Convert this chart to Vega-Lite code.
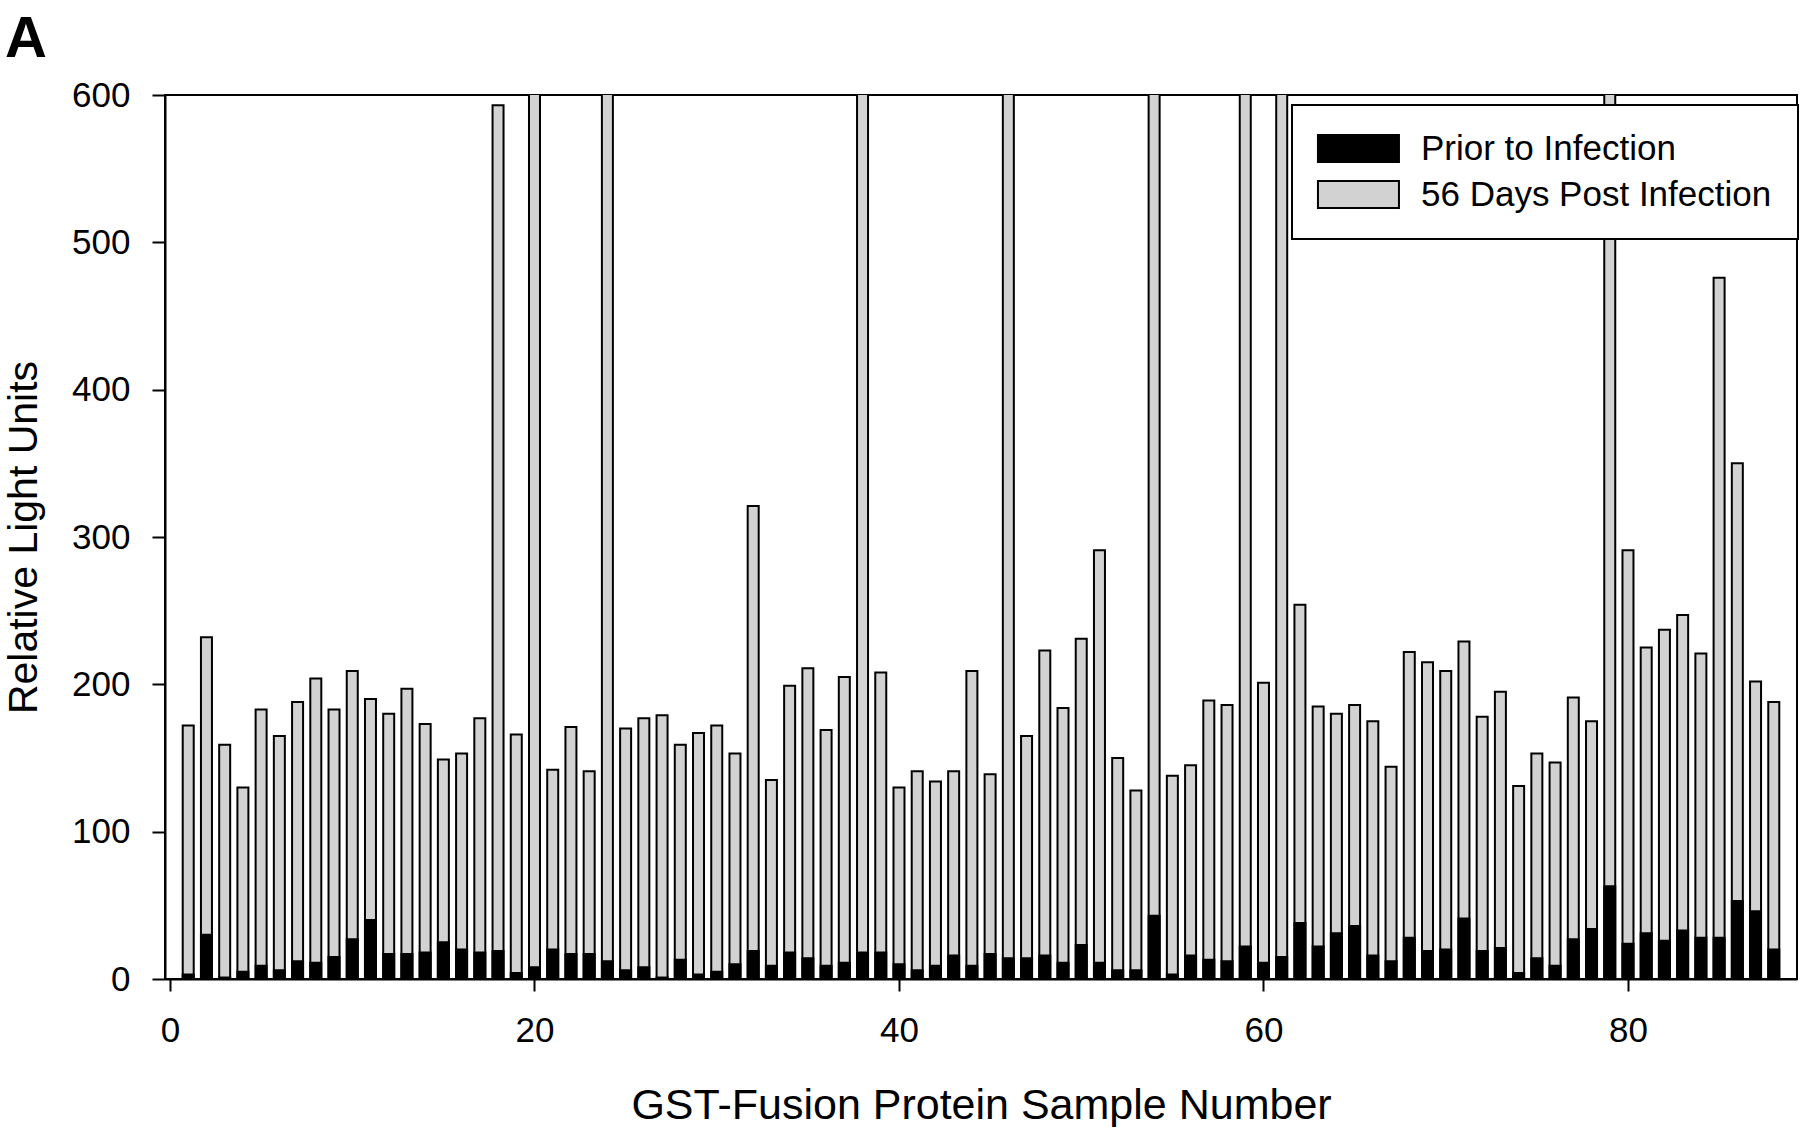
{
 "$schema": "https://vega.github.io/schema/vega-lite/v6.json",
 "width": 1632,
 "height": 884,
 "autosize": {"type": "none"},
 "padding": {"left": 165, "top": 95, "right": 3, "bottom": 148},
 "background": "white",
 "title": {"text": "A", "anchor": "start", "frame": "group", "dx": -160, "dy": 47, "offset": 10, "baseline": "alphabetic", "fontSize": 58, "fontWeight": "bold", "font": "Liberation Sans", "color": "black"},
 "config": {
  "view": {"stroke": "black", "strokeWidth": 2},
  "font": "Liberation Sans",
  "axis": {"grid": false, "domainColor": "black", "domainWidth": 2, "tickColor": "black", "tickWidth": 2, "labelColor": "black", "titleColor": "black", "labelFont": "Liberation Sans", "titleFont": "Liberation Sans", "titleFontWeight": "normal"}
 },
 "data": {"values": [
  {"sample":1,"series":"56 Days Post Infection","value":172},
  {"sample":2,"series":"56 Days Post Infection","value":232},
  {"sample":3,"series":"56 Days Post Infection","value":159},
  {"sample":4,"series":"56 Days Post Infection","value":130},
  {"sample":5,"series":"56 Days Post Infection","value":183},
  {"sample":6,"series":"56 Days Post Infection","value":165},
  {"sample":7,"series":"56 Days Post Infection","value":188},
  {"sample":8,"series":"56 Days Post Infection","value":204},
  {"sample":9,"series":"56 Days Post Infection","value":183},
  {"sample":10,"series":"56 Days Post Infection","value":209},
  {"sample":11,"series":"56 Days Post Infection","value":190},
  {"sample":12,"series":"56 Days Post Infection","value":180},
  {"sample":13,"series":"56 Days Post Infection","value":197},
  {"sample":14,"series":"56 Days Post Infection","value":173},
  {"sample":15,"series":"56 Days Post Infection","value":149},
  {"sample":16,"series":"56 Days Post Infection","value":153},
  {"sample":17,"series":"56 Days Post Infection","value":177},
  {"sample":18,"series":"56 Days Post Infection","value":593},
  {"sample":19,"series":"56 Days Post Infection","value":166},
  {"sample":20,"series":"56 Days Post Infection","value":700},
  {"sample":21,"series":"56 Days Post Infection","value":142},
  {"sample":22,"series":"56 Days Post Infection","value":171},
  {"sample":23,"series":"56 Days Post Infection","value":141},
  {"sample":24,"series":"56 Days Post Infection","value":700},
  {"sample":25,"series":"56 Days Post Infection","value":170},
  {"sample":26,"series":"56 Days Post Infection","value":177},
  {"sample":27,"series":"56 Days Post Infection","value":179},
  {"sample":28,"series":"56 Days Post Infection","value":159},
  {"sample":29,"series":"56 Days Post Infection","value":167},
  {"sample":30,"series":"56 Days Post Infection","value":172},
  {"sample":31,"series":"56 Days Post Infection","value":153},
  {"sample":32,"series":"56 Days Post Infection","value":321},
  {"sample":33,"series":"56 Days Post Infection","value":135},
  {"sample":34,"series":"56 Days Post Infection","value":199},
  {"sample":35,"series":"56 Days Post Infection","value":211},
  {"sample":36,"series":"56 Days Post Infection","value":169},
  {"sample":37,"series":"56 Days Post Infection","value":205},
  {"sample":38,"series":"56 Days Post Infection","value":700},
  {"sample":39,"series":"56 Days Post Infection","value":208},
  {"sample":40,"series":"56 Days Post Infection","value":130},
  {"sample":41,"series":"56 Days Post Infection","value":141},
  {"sample":42,"series":"56 Days Post Infection","value":134},
  {"sample":43,"series":"56 Days Post Infection","value":141},
  {"sample":44,"series":"56 Days Post Infection","value":209},
  {"sample":45,"series":"56 Days Post Infection","value":139},
  {"sample":46,"series":"56 Days Post Infection","value":700},
  {"sample":47,"series":"56 Days Post Infection","value":165},
  {"sample":48,"series":"56 Days Post Infection","value":223},
  {"sample":49,"series":"56 Days Post Infection","value":184},
  {"sample":50,"series":"56 Days Post Infection","value":231},
  {"sample":51,"series":"56 Days Post Infection","value":291},
  {"sample":52,"series":"56 Days Post Infection","value":150},
  {"sample":53,"series":"56 Days Post Infection","value":128},
  {"sample":54,"series":"56 Days Post Infection","value":700},
  {"sample":55,"series":"56 Days Post Infection","value":138},
  {"sample":56,"series":"56 Days Post Infection","value":145},
  {"sample":57,"series":"56 Days Post Infection","value":189},
  {"sample":58,"series":"56 Days Post Infection","value":186},
  {"sample":59,"series":"56 Days Post Infection","value":700},
  {"sample":60,"series":"56 Days Post Infection","value":201},
  {"sample":61,"series":"56 Days Post Infection","value":700},
  {"sample":62,"series":"56 Days Post Infection","value":254},
  {"sample":63,"series":"56 Days Post Infection","value":185},
  {"sample":64,"series":"56 Days Post Infection","value":180},
  {"sample":65,"series":"56 Days Post Infection","value":186},
  {"sample":66,"series":"56 Days Post Infection","value":175},
  {"sample":67,"series":"56 Days Post Infection","value":144},
  {"sample":68,"series":"56 Days Post Infection","value":222},
  {"sample":69,"series":"56 Days Post Infection","value":215},
  {"sample":70,"series":"56 Days Post Infection","value":209},
  {"sample":71,"series":"56 Days Post Infection","value":229},
  {"sample":72,"series":"56 Days Post Infection","value":178},
  {"sample":73,"series":"56 Days Post Infection","value":195},
  {"sample":74,"series":"56 Days Post Infection","value":131},
  {"sample":75,"series":"56 Days Post Infection","value":153},
  {"sample":76,"series":"56 Days Post Infection","value":147},
  {"sample":77,"series":"56 Days Post Infection","value":191},
  {"sample":78,"series":"56 Days Post Infection","value":175},
  {"sample":79,"series":"56 Days Post Infection","value":700},
  {"sample":80,"series":"56 Days Post Infection","value":291},
  {"sample":81,"series":"56 Days Post Infection","value":225},
  {"sample":82,"series":"56 Days Post Infection","value":237},
  {"sample":83,"series":"56 Days Post Infection","value":247},
  {"sample":84,"series":"56 Days Post Infection","value":221},
  {"sample":85,"series":"56 Days Post Infection","value":476},
  {"sample":86,"series":"56 Days Post Infection","value":350},
  {"sample":87,"series":"56 Days Post Infection","value":202},
  {"sample":88,"series":"56 Days Post Infection","value":188},
  {"sample":1,"series":"Prior to Infection","value":3},
  {"sample":2,"series":"Prior to Infection","value":30},
  {"sample":3,"series":"Prior to Infection","value":1},
  {"sample":4,"series":"Prior to Infection","value":5},
  {"sample":5,"series":"Prior to Infection","value":9},
  {"sample":6,"series":"Prior to Infection","value":6},
  {"sample":7,"series":"Prior to Infection","value":12},
  {"sample":8,"series":"Prior to Infection","value":11},
  {"sample":9,"series":"Prior to Infection","value":15},
  {"sample":10,"series":"Prior to Infection","value":27},
  {"sample":11,"series":"Prior to Infection","value":40},
  {"sample":12,"series":"Prior to Infection","value":17},
  {"sample":13,"series":"Prior to Infection","value":17},
  {"sample":14,"series":"Prior to Infection","value":18},
  {"sample":15,"series":"Prior to Infection","value":25},
  {"sample":16,"series":"Prior to Infection","value":20},
  {"sample":17,"series":"Prior to Infection","value":18},
  {"sample":18,"series":"Prior to Infection","value":19},
  {"sample":19,"series":"Prior to Infection","value":4},
  {"sample":20,"series":"Prior to Infection","value":8},
  {"sample":21,"series":"Prior to Infection","value":20},
  {"sample":22,"series":"Prior to Infection","value":17},
  {"sample":23,"series":"Prior to Infection","value":17},
  {"sample":24,"series":"Prior to Infection","value":12},
  {"sample":25,"series":"Prior to Infection","value":6},
  {"sample":26,"series":"Prior to Infection","value":8},
  {"sample":27,"series":"Prior to Infection","value":1},
  {"sample":28,"series":"Prior to Infection","value":13},
  {"sample":29,"series":"Prior to Infection","value":3},
  {"sample":30,"series":"Prior to Infection","value":5},
  {"sample":31,"series":"Prior to Infection","value":10},
  {"sample":32,"series":"Prior to Infection","value":19},
  {"sample":33,"series":"Prior to Infection","value":9},
  {"sample":34,"series":"Prior to Infection","value":18},
  {"sample":35,"series":"Prior to Infection","value":14},
  {"sample":36,"series":"Prior to Infection","value":9},
  {"sample":37,"series":"Prior to Infection","value":11},
  {"sample":38,"series":"Prior to Infection","value":18},
  {"sample":39,"series":"Prior to Infection","value":18},
  {"sample":40,"series":"Prior to Infection","value":10},
  {"sample":41,"series":"Prior to Infection","value":6},
  {"sample":42,"series":"Prior to Infection","value":9},
  {"sample":43,"series":"Prior to Infection","value":16},
  {"sample":44,"series":"Prior to Infection","value":9},
  {"sample":45,"series":"Prior to Infection","value":17},
  {"sample":46,"series":"Prior to Infection","value":14},
  {"sample":47,"series":"Prior to Infection","value":14},
  {"sample":48,"series":"Prior to Infection","value":16},
  {"sample":49,"series":"Prior to Infection","value":11},
  {"sample":50,"series":"Prior to Infection","value":23},
  {"sample":51,"series":"Prior to Infection","value":11},
  {"sample":52,"series":"Prior to Infection","value":6},
  {"sample":53,"series":"Prior to Infection","value":6},
  {"sample":54,"series":"Prior to Infection","value":43},
  {"sample":55,"series":"Prior to Infection","value":3},
  {"sample":56,"series":"Prior to Infection","value":16},
  {"sample":57,"series":"Prior to Infection","value":13},
  {"sample":58,"series":"Prior to Infection","value":12},
  {"sample":59,"series":"Prior to Infection","value":22},
  {"sample":60,"series":"Prior to Infection","value":11},
  {"sample":61,"series":"Prior to Infection","value":15},
  {"sample":62,"series":"Prior to Infection","value":38},
  {"sample":63,"series":"Prior to Infection","value":22},
  {"sample":64,"series":"Prior to Infection","value":31},
  {"sample":65,"series":"Prior to Infection","value":36},
  {"sample":66,"series":"Prior to Infection","value":16},
  {"sample":67,"series":"Prior to Infection","value":12},
  {"sample":68,"series":"Prior to Infection","value":28},
  {"sample":69,"series":"Prior to Infection","value":19},
  {"sample":70,"series":"Prior to Infection","value":20},
  {"sample":71,"series":"Prior to Infection","value":41},
  {"sample":72,"series":"Prior to Infection","value":19},
  {"sample":73,"series":"Prior to Infection","value":21},
  {"sample":74,"series":"Prior to Infection","value":4},
  {"sample":75,"series":"Prior to Infection","value":14},
  {"sample":76,"series":"Prior to Infection","value":9},
  {"sample":77,"series":"Prior to Infection","value":27},
  {"sample":78,"series":"Prior to Infection","value":34},
  {"sample":79,"series":"Prior to Infection","value":63},
  {"sample":80,"series":"Prior to Infection","value":24},
  {"sample":81,"series":"Prior to Infection","value":31},
  {"sample":82,"series":"Prior to Infection","value":26},
  {"sample":83,"series":"Prior to Infection","value":33},
  {"sample":84,"series":"Prior to Infection","value":28},
  {"sample":85,"series":"Prior to Infection","value":28},
  {"sample":86,"series":"Prior to Infection","value":53},
  {"sample":87,"series":"Prior to Infection","value":46},
  {"sample":88,"series":"Prior to Infection","value":20}
 ]},
 "mark": {"type": "bar", "width": 11, "stroke": "black", "strokeWidth": 2, "clip": true},
 "encoding": {
  "x": {"field": "sample", "type": "quantitative", "scale": {"domain": [0, 89], "nice": false},
   "axis": {"values": [0, 20, 40, 60, 80], "tickSize": 12, "labelPadding": 22, "labelFontSize": 35, "title": "GST-Fusion Protein Sample Number", "titleFontSize": 43, "titlePadding": 36}},
  "y": {"field": "value", "type": "quantitative", "stack": null, "scale": {"domain": [0, 600], "nice": false},
   "axis": {"values": [0, 100, 200, 300, 400, 500, 600], "tickSize": 13, "labelPadding": 22, "labelFontSize": 35, "title": "Relative Light Units", "titleFontSize": 41, "titlePadding": 26}},
  "color": {"field": "series", "type": "nominal",
   "scale": {"domain": ["Prior to Infection", "56 Days Post Infection"], "range": ["#000000", "#d2d2d2"]},
   "legend": {"title": null, "orient": "none", "legendX": 1127, "legendY": 10, "fillColor": "white", "strokeColor": "black", "padding": 26, "labelFontSize": 35, "labelLimit": 0, "labelColor": "black", "labelFont": "Liberation Sans", "symbolType": "M-1.3,-1h6v2h-6z", "symbolSize": 729, "symbolStrokeColor": "black", "symbolStrokeWidth": 2, "symbolOpacity": 1, "rowPadding": 10, "labelOffset": 68, "encode": {"legend": {"update": {"strokeWidth": {"value": 2}}}}}}
 }
}
